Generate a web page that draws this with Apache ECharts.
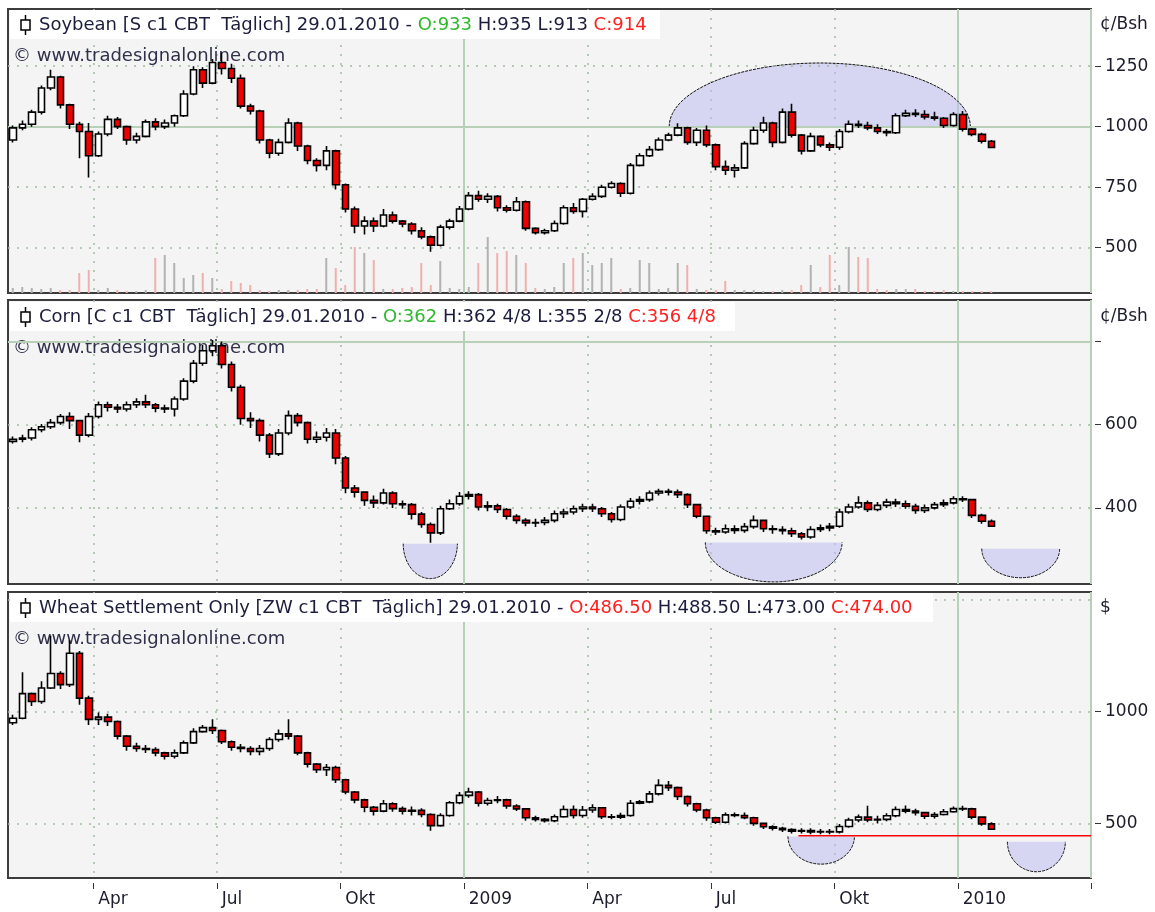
<!DOCTYPE html>
<html>
<head>
<meta charset="utf-8">
<script src="https://cdn.jsdelivr.net/npm/echarts@6/dist/echarts.min.js"></script>
<style>
html, body { margin: 0; padding: 0; background: #fff; }
#chart { width: 1155px; height: 912px; }
</style>
</head>
<body>
<div id="chart"></div>
<script>
// weekly candles [open, close, low, high]
var soybean = [
  [945,995,935,1005],[995,1010,985,1025],[1010,1060,1000,1070],[1060,1160,1050,1170],[1160,1205,1150,1235],
  [1205,1090,1075,1210],[1090,1010,990,1095],[1010,980,870,1020],[980,880,790,1015],[880,970,875,980],
  [970,1030,960,1045],[1030,1000,990,1040],[1000,945,925,1005],[945,960,930,975],[960,1020,955,1030],
  [1020,1000,985,1035],[1000,1015,990,1030],[1015,1045,1000,1050],[1045,1135,1040,1150],[1135,1235,1130,1250],
  [1235,1180,1160,1245],[1180,1265,1175,1280],[1265,1240,1215,1305],[1240,1200,1180,1260],[1200,1085,1075,1215],
  [1085,1065,1050,1095],[1065,945,930,1070],[945,890,870,950],[890,935,880,950],[935,1015,930,1035],
  [1015,920,900,1020],[920,860,845,925],[860,840,815,870],[840,900,820,920],[900,760,740,905],
  [760,660,645,765],[660,590,560,670],[590,610,555,630],[610,590,565,625],[590,635,585,660],
  [635,610,600,650],[610,598,585,615],[598,570,555,605],[570,545,535,585],[545,510,483,550],
  [510,585,505,595],[585,610,575,620],[610,660,605,672],[660,715,655,730],[715,700,690,735],
  [700,712,685,725],[712,665,650,718],[665,655,645,675],[655,690,650,710],[690,580,570,695],
  [580,562,555,585],[562,570,555,578],[570,600,565,612],[600,665,595,675],[665,650,640,685],
  [650,700,625,705],[700,712,695,725],[712,750,705,760],[750,765,745,775],[765,725,710,770],
  [725,840,720,850],[840,880,835,890],[880,905,875,920],[905,945,900,955],[945,965,940,975],
  [965,995,960,1014],[995,935,925,1000],[935,985,920,995],[985,925,915,1005],[925,835,820,930],
  [835,820,800,860],[820,830,790,845],[830,930,825,940],[930,985,925,1000],[985,1015,975,1041],
  [1015,935,915,1020],[935,1060,930,1075],[1060,965,955,1095],[965,900,885,970],[900,960,895,975],
  [960,925,915,965],[925,915,900,935],[915,980,905,990],[980,1010,975,1025],[1010,1005,995,1025],
  [1005,995,985,1020],[995,980,970,1010],[980,975,960,990],[975,1045,970,1055],[1045,1055,1040,1070],
  [1055,1050,1040,1072],[1050,1040,1030,1068],[1040,1035,1025,1062],[1035,1005,995,1040],[1005,1050,1000,1060],
  [1050,990,980,1065],[990,968,960,995],[968,940,930,975],[940,914,913,945]
];
var soyVolume = [
  5,6,5,4,5,3,3,20,23,3, 5,3,2,2,3,35,38,30,15,18, 20,15,4,12,10,8,3,2,3,3,
  3,4,4,35,25,8,46,40,33,4, 4,5,6,30,8,32,5,4,6,30, 56,40,42,38,30,5,4,6,30,35,
  40,28,30,35,4,5,33,30,4,5, 30,28,4,3,3,12,3,3,3,2, 2,3,3,8,28,6,38,8,46,36,
  35,4,3,4,4,4,2,2,3,2, 2,2,2,2
];
var corn = [
  [560,565,555,572],[565,568,558,576],[568,588,562,594],[588,595,582,602],[595,605,590,614],
  [605,620,600,626],[620,610,590,630],[610,575,558,612],[575,620,570,628],[620,648,615,656],
  [648,642,632,655],[642,638,628,650],[638,648,632,656],[648,655,640,664],[655,648,640,672],
  [648,640,630,652],[640,638,628,648],[638,662,620,668],[662,705,658,712],[705,748,700,756],
  [748,778,742,792],[778,790,765,804],[790,745,735,800],[745,690,680,752],[690,615,600,696],
  [615,610,592,630],[610,575,560,615],[575,530,520,580],[530,580,525,590],[580,622,575,634],
  [622,605,596,628],[605,565,555,608],[565,570,556,584],[570,580,560,592],[580,520,505,590],
  [520,448,435,525],[448,438,425,455],[438,418,405,440],[418,412,400,430],[412,436,408,446],
  [436,410,400,440],[410,408,398,418],[408,385,372,412],[385,360,352,390],[360,340,316,365],
  [340,398,335,405],[398,410,395,420],[410,428,405,438],[428,432,420,440],[432,402,394,436],
  [402,405,392,416],[405,396,388,410],[396,380,372,400],[380,370,362,385],[370,364,356,375],
  [364,365,354,374],[365,370,358,378],[370,386,365,394],[386,390,376,398],[390,398,384,406],
  [398,402,390,410],[402,398,390,410],[398,386,378,402],[386,372,365,390],[372,402,368,408],
  [402,416,398,424],[416,420,408,428],[420,436,415,442],[436,440,430,446],[440,438,430,446],
  [438,432,424,444],[432,408,400,435],[408,380,375,410],[380,345,338,382],[345,342,335,352],
  [342,350,338,360],[350,346,338,358],[346,355,340,364],[355,370,350,382],[370,350,342,372],
  [350,348,338,358],[348,345,336,356],[345,338,330,352],[338,330,324,342],[330,348,326,356],
  [348,352,342,360],[352,356,344,364],[356,390,352,398],[390,402,386,410],[402,412,398,428],
  [412,396,390,418],[396,406,392,414],[406,414,400,422],[414,410,402,422],[410,404,398,418],
  [404,394,386,410],[394,400,388,408],[400,408,396,414],[408,412,402,420],[412,422,408,428],
  [422,420,414,428],[420,382,376,422],[382,368,362,386],[368,356,355,372]
];
var wheat = [
  [950,970,940,985],[970,1080,965,1175],[1080,1045,1025,1085],[1045,1105,1035,1135],[1105,1170,1100,1340],
  [1170,1120,1100,1180],[1120,1260,1110,1318],[1260,1060,1030,1270],[1060,965,940,1070],[965,975,940,995],
  [975,955,935,990],[955,890,875,960],[890,845,825,895],[845,835,820,860],[835,830,815,850],
  [830,815,800,840],[815,800,785,820],[800,815,790,830],[815,860,810,870],[860,910,855,925],
  [910,928,905,940],[928,915,900,965],[915,865,855,920],[865,840,825,870],[840,835,818,855],
  [835,822,805,845],[822,835,805,850],[835,875,825,885],[875,900,865,920],[900,890,875,965],
  [890,815,805,895],[815,765,750,820],[765,740,725,770],[740,750,712,765],[750,695,680,758],
  [695,640,630,700],[640,605,590,645],[605,572,550,610],[572,555,535,578],[555,588,550,605],
  [588,566,552,595],[566,555,540,575],[555,558,535,575],[558,540,528,568],[540,490,467,545],
  [490,535,485,545],[535,592,530,600],[592,625,585,640],[625,640,615,659],[640,590,575,645],
  [590,602,580,615],[602,605,590,622],[605,578,565,610],[578,565,555,585],[565,525,512,568],
  [525,518,508,534],[518,512,504,524],[512,530,505,540],[530,562,525,580],[562,535,522,580],
  [535,560,525,578],[560,570,548,585],[570,530,520,572],[530,528,518,542],[528,535,520,548],
  [535,590,530,605],[590,596,585,605],[596,632,590,645],[632,670,625,697],[670,660,645,690],
  [660,620,605,665],[620,588,575,625],[588,560,550,592],[560,525,512,565],[525,505,497,530],
  [505,538,500,549],[538,535,527,549],[535,525,519,549],[525,500,490,530],[500,485,475,504],
  [485,478,468,492],[478,472,462,485],[472,465,455,478],[465,468,455,478],[468,462,452,478],
  [462,464,452,475],[464,462,452,475],[462,486,455,497],[486,515,480,525],[515,528,505,540],
  [528,515,505,579],[515,518,500,534],[518,534,510,545],[534,562,528,575],[562,555,545,580],
  [555,548,535,565],[548,532,520,552],[532,540,522,550],[540,552,535,564],[552,566,548,575],
  [566,565,555,579],[565,528,518,570],[528,498,490,530],[498,474,473,505]
];

// half-ellipse drawings: [startWeek, endWeek, baseValue, outerValue]
var soyArcs = [[69.1, 100.8, 1000, 1263]];
var cornArcs = [[41.1, 46.8, 314, 230], [72.9, 87.3, 317, 222], [102.0, 110.2, 302, 232]];
var wheatArcs = [[81.6, 88.6, 442, 318], [104.7, 110.8, 418, 284]];
var wheatLevel = [[82.7, 113.5, 445]];

// weeks (Mondays) on the x axis
var weeks = [];
for (var i = 0; i < 114; i++) {
  weeks.push(new Date(Date.UTC(2008, 0, 28 + 7 * i)).toISOString().slice(0, 10));
}
var xTickWeeks = [9, 22, 35, 48, 61, 74, 87, 100];
var xTickLabels = ['Apr', 'Jul', 'Okt', '2009', 'Apr', 'Jul', 'Okt', '2010'];
var yearWeeks = [48, 100];

var soyTicks = [500, 750, 1000, 1250];
var cornTicks = [400, 600, 800];
var cornLabels = [400, 600];
var wheatTicks = [500, 1000];

var FONT = 'DejaVu Sans';
var dotted = { type: [2, 7], color: '#9dbd9d', width: 1.5 };
var solid = { type: 'solid', color: '#b8d0b8', width: 2 };

function xAxes(grid, withLabels) {
  return [{
    type: 'category', gridIndex: grid, data: weeks, boundaryGap: true,
    position: 'bottom', offset: 5,
    axisLine: { show: false },
    axisTick: { show: withLabels, length: 6, interval: function (i) { return xTickWeeks.indexOf(i) >= 0; },
      lineStyle: { color: '#333', width: 1 } },
    axisLabel: { show: withLabels, interval: function (i) { return xTickWeeks.indexOf(i) >= 0; },
      formatter: function (v, i) { return xTickLabels[xTickWeeks.indexOf(i)] || ''; },
      align: 'left', margin: 8, fontSize: 17, fontFamily: FONT, color: '#1c1c2c' },
    splitLine: { show: true, interval: function (i) { return xTickWeeks.indexOf(i) >= 0 && yearWeeks.indexOf(i) < 0; },
      lineStyle: dotted }
  }, {
    type: 'category', gridIndex: grid, data: weeks, boundaryGap: true, position: 'bottom',
    axisLine: { show: false }, axisTick: { show: false }, axisLabel: { show: false },
    splitLine: { show: true, interval: function (i) { return yearWeeks.indexOf(i) >= 0; }, lineStyle: solid }
  }];
}

function yAxis(grid, min, max, ticks, labels) {
  return {
    type: 'value', gridIndex: grid, position: 'right', min: min, max: max, offset: 4,
    axisLine: { show: false },
    axisTick: { show: true, length: 6, customValues: ticks, lineStyle: { color: '#333' } },
    axisLabel: { customValues: labels, margin: 10, fontSize: 17, fontFamily: FONT, color: '#1c1c2c',
      formatter: function (v) { return String(v); } },
    splitLine: { show: false }
  };
}

function candles(data, xi, yi) {
  return {
    type: 'candlestick', xAxisIndex: xi, yAxisIndex: yi, data: data, barWidth: 7, z: 5, silent: true,
    itemStyle: { color: '#ffffff', color0: '#ee0000', borderColor: '#000', borderColor0: '#000', borderWidth: 1.6 }
  };
}

function gridLines(xi, yi, dots, solids) {
  var d = dots.map(function (v) { return { yAxis: v, lineStyle: dotted }; })
    .concat(solids.map(function (v) { return { yAxis: v, lineStyle: solid }; }));
  return {
    type: 'line', xAxisIndex: xi, yAxisIndex: yi, data: ['-'], z: 1, silent: true, symbol: 'none',
    markLine: { silent: true, symbol: 'none', animation: false, label: { show: false }, data: d }
  };
}

function arcSeries(arcs, xi, yi) {
  return {
    type: 'custom', xAxisIndex: xi, yAxisIndex: yi, z: 3, silent: true, clip: true,
    data: arcs.map(function (a) { return [Math.round(a[0]), a[2]]; }),
    renderItem: function (params, api) {
      var a = arcs[params.dataIndex];
      var p0 = api.coord([0, a[2]]), p1 = api.coord([1, a[2]]);
      var bw = p1[0] - p0[0];
      var xs = p0[0] + a[0] * bw, xe = p0[0] + a[1] * bw;
      var yb = p0[1], ry = api.coord([0, a[3]])[1] - yb;
      var cx = (xs + xe) / 2, rx = (xe - xs) / 2;
      var pts = [];
      for (var k = 0; k <= 60; k++) {
        var t = Math.PI * k / 60;
        pts.push([cx - rx * Math.cos(t), yb + ry * Math.sin(t)]);
      }
      return { type: 'group', children: [
        { type: 'polygon', shape: { points: pts }, style: { fill: 'rgba(190,190,240,0.55)' } },
        { type: 'polyline', shape: { points: pts }, style: { stroke: '#111', lineWidth: 1, lineDash: [3, 1], fill: null } }
      ] };
    }
  };
}

function levelSeries(levels, xi, yi) {
  return {
    type: 'custom', xAxisIndex: xi, yAxisIndex: yi, z: 4, silent: true, clip: true,
    data: levels.map(function (l) { return [Math.round(l[0]), l[2]]; }),
    renderItem: function (params, api) {
      var l = levels[params.dataIndex];
      var p0 = api.coord([0, l[2]]), p1 = api.coord([1, l[2]]);
      var bw = p1[0] - p0[0];
      return { type: 'line',
        shape: { x1: p0[0] + l[0] * bw, y1: p0[1], x2: p0[0] + l[1] * bw, y2: p0[1] },
        style: { stroke: '#ff0000', lineWidth: 1.5 } };
    }
  };
}

function header(y, rich, boxW) {
  var st = { fontSize: 18, fontFamily: FONT };
  return [
    { type: 'rect', z: 50, shape: { x: 10, y: y - 15, width: boxW, height: 29 }, style: { fill: '#ffffff' } },
    { type: 'line', z: 51, shape: { x1: 25.5, y1: y - 10, x2: 25.5, y2: y + 10 }, style: { stroke: '#000', lineWidth: 1.5 } },
    { type: 'rect', z: 52, shape: { x: 21, y: y - 5, width: 9, height: 10 }, style: { fill: '#fff', stroke: '#000', lineWidth: 1.5 } },
    { type: 'text', z: 52, style: { x: 39, y: y, text: rich, verticalAlign: 'middle', fontSize: 18, fontFamily: FONT,
      fill: '#1c1c3c', rich: {
        t: Object.assign({ fill: '#1c1c3c' }, st),
        g: Object.assign({ fill: '#2db82d' }, st),
        r: Object.assign({ fill: '#ff2020' }, st)
      } } },
    { type: 'text', z: 1, style: { x: 13, y: y + 31, text: '© www.tradesignalonline.com', verticalAlign: 'middle',
      fontSize: 18, fontFamily: FONT, fill: '#30304a' } }
  ];
}

var chart = echarts.init(document.getElementById('chart'), null, { renderer: 'canvas' });

var gridBase = { left: 8, width: 1083, show: true, backgroundColor: '#f4f4f4', borderColor: '#3c3c3c', borderWidth: 2, outerBoundsMode: 'none', containLabel: false };

chart.setOption({
  animation: false,
  backgroundColor: '#ffffff',
  grid: [
    Object.assign({ top: 9, height: 284 }, gridBase),
    Object.assign({ top: 300, height: 284 }, gridBase),
    Object.assign({ top: 592, height: 286 }, gridBase)
  ],
  xAxis: xAxes(0, false).concat(xAxes(1, false), xAxes(2, true)),
  yAxis: [
    yAxis(0, 313, 1486, soyTicks, soyTicks),
    { type: 'value', gridIndex: 0, min: 0, max: 284, show: false, splitLine: { show: false } },
    yAxis(1, 217, 900, cornTicks, cornLabels),
    yAxis(2, 256, 1534, wheatTicks, wheatTicks)
  ],
  series: [
    gridLines(0, 0, [500, 750, 1250], [1000]),
    {
      type: 'bar', xAxisIndex: 0, yAxisIndex: 1, barWidth: 2, z: 2, silent: true,
      data: soyVolume.map(function (v, i) {
        return { value: v, itemStyle: { color: soybean[i][1] >= soybean[i][0] ? '#b2b2b2' : '#f0b0b0' } };
      })
    },
    arcSeries(soyArcs, 0, 0),
    candles(soybean, 0, 0),

    gridLines(2, 2, [400, 600], [800]),
    arcSeries(cornArcs, 2, 2),
    candles(corn, 2, 2),

    gridLines(4, 3, [500, 1000, 1500], []),
    arcSeries(wheatArcs, 4, 3),
    levelSeries(wheatLevel, 4, 3),
    candles(wheat, 4, 3)
  ],
  graphic: [].concat(
    header(25, '{t|Soybean [S c1 CBT  Täglich] 29.01.2010 - }{g|O:933}{t| H:935 L:913 }{r|C:914}', 650),
    header(317, '{t|Corn [C c1 CBT  Täglich] 29.01.2010 - }{g|O:362}{t| H:362 4/8 L:355 2/8 }{r|C:356 4/8}', 725),
    header(608, '{t|Wheat Settlement Only [ZW c1 CBT  Täglich] 29.01.2010 - }{r|O:486.50}{t| H:488.50 L:473.00 }{r|C:474.00}', 923),
    [
      { type: 'text', z: 52, style: { x: 1100, y: 25, text: '¢/Bsh', verticalAlign: 'middle', fontSize: 17, fontFamily: FONT, fill: '#1c1c2c' } },
      { type: 'text', z: 52, style: { x: 1100, y: 317, text: '¢/Bsh', verticalAlign: 'middle', fontSize: 17, fontFamily: FONT, fill: '#1c1c2c' } },
      { type: 'text', z: 52, style: { x: 1100, y: 608, text: '$', verticalAlign: 'middle', fontSize: 17, fontFamily: FONT, fill: '#1c1c2c' } }
    ]
  )
});
</script>
</body>
</html>
